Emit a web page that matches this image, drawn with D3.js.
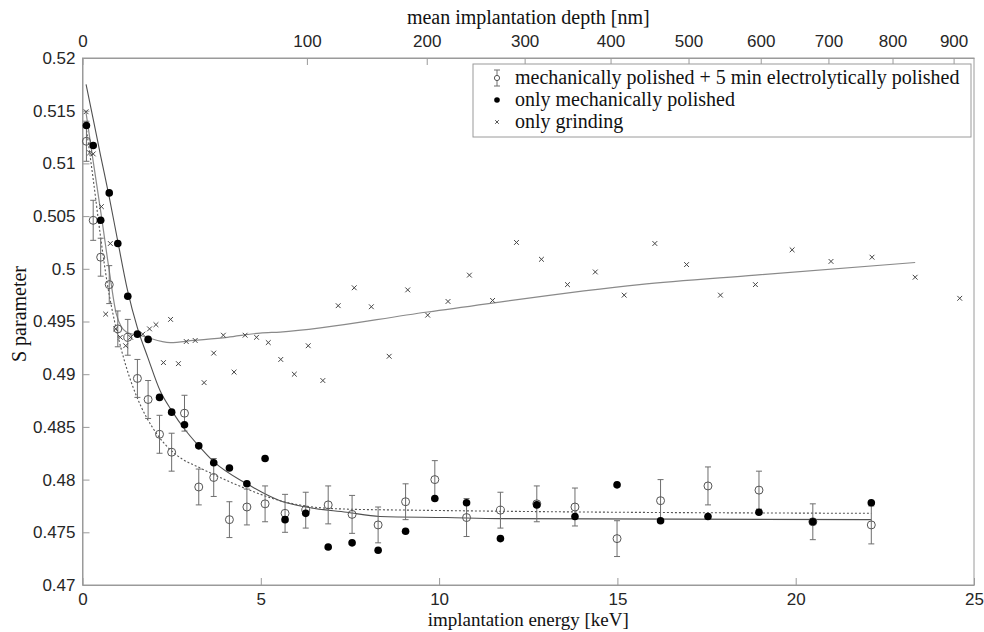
<!DOCTYPE html>
<html><head><meta charset="utf-8">
<script src="https://cdn.jsdelivr.net/npm/d3@7"></script>
<style>body{margin:0;background:#fff;} svg{display:block}</style>
</head><body>
<svg id="chart" width="984" height="632"></svg>
<script>
// ---- data ----
const energy = [0.11,0.30,0.51,0.75,0.99,1.27,1.54,1.84,2.16,2.50,2.86,3.26,3.68,4.12,4.61,5.12,5.68,6.26,6.89,7.56,8.29,9.06,9.88,10.77,11.72,12.74,13.81,14.99,16.21,17.54,18.97,20.48,22.12];
const sElectro = [0.5121,0.5046,0.5011,0.4985,0.4943,0.4935,0.4896,0.4876,0.4843,0.4826,0.4863,0.4793,0.4802,0.4762,0.4774,0.4777,0.4768,0.4771,0.4776,0.4767,0.4757,0.4779,0.4800,0.4764,0.4771,0.4777,0.4774,0.4744,0.4780,0.4794,0.4790,0.4760,0.4757];
const sElectroErr = [0.0019,0.0019,0.0018,0.0018,0.0017,0.0017,0.0018,0.0018,0.0018,0.0018,0.0017,0.0017,0.0018,0.0017,0.0017,0.0017,0.0018,0.0017,0.0018,0.0018,0.0017,0.0017,0.0018,0.0018,0.0017,0.0017,0.0018,0.0017,0.0020,0.0018,0.0018,0.0017,0.0018];
const sMech = [0.5136,0.5117,0.5046,0.5072,0.5024,0.4974,0.4938,0.4933,0.4878,0.4864,0.4852,0.4832,0.4816,0.4811,0.4796,0.4820,0.4762,0.4768,0.4736,0.4740,0.4733,0.4751,0.4782,0.4778,0.4744,0.4776,0.4765,0.4795,0.4761,0.4765,0.4769,0.4760,0.4778];
const energyGrind = [0.10,0.20,0.30,0.53,0.65,0.78,0.93,1.06,1.21,1.35,1.69,1.88,2.06,2.27,2.47,2.69,2.91,3.16,3.41,3.68,3.95,4.25,4.56,4.88,5.21,5.56,5.94,6.33,6.74,7.17,7.62,8.10,8.60,9.12,9.68,10.25,10.85,11.50,12.17,12.87,13.60,14.38,15.19,16.05,16.94,17.89,18.87,19.90,20.99,22.14,23.35,24.60];
const sGrind = [0.5149,0.5110,0.5109,0.5059,0.4957,0.5024,0.4943,0.4935,0.4927,0.4935,0.4938,0.4943,0.4947,0.4911,0.4952,0.4910,0.4931,0.4932,0.4892,0.4920,0.4937,0.4902,0.4937,0.4935,0.4930,0.4914,0.4900,0.4927,0.4894,0.4965,0.4982,0.4964,0.4917,0.4980,0.4956,0.4969,0.4994,0.4970,0.5025,0.5009,0.4985,0.4997,0.4975,0.5024,0.5004,0.4975,0.4985,0.5018,0.5007,0.5011,0.4992,0.4972];

// fitted curves
const fitElectroE = [0.10,0.30,0.50,0.70,0.90,1.10,1.30,1.53,2.09,2.65,3.30,3.67,4.61,5.54,6.47,7.41,9.27,11.70,22.12];
const fitElectroS = [0.5135,0.5085,0.5032,0.4985,0.4950,0.4922,0.4899,0.4878,0.4843,0.4823,0.4811,0.4805,0.4791,0.4780,0.4774,0.4772,0.4771,0.4770,0.4768];
const fitMechE = [0.10,0.30,0.51,0.75,0.99,1.26,1.54,1.83,2.18,2.51,2.86,3.26,3.68,4.61,5.54,6.26,7.41,8.34,10.21,11.70,22.12];
const fitMechS = [0.5175,0.5142,0.5107,0.5068,0.5026,0.4980,0.4944,0.4916,0.4884,0.4865,0.4848,0.4832,0.4817,0.4796,0.4780,0.4774,0.4769,0.4765,0.4764,0.4763,0.4762];
const fitGrindE = [0.10,0.30,0.53,0.76,0.95,1.23,1.70,2.46,3.11,4.06,4.98,5.54,9.68,15.62,18.87,23.35];
const fitGrindS = [0.5148,0.5102,0.5050,0.4996,0.4957,0.4940,0.4936,0.4930,0.4932,0.4935,0.4939,0.4940,0.4959,0.4985,0.4994,0.5006];

// axes ticks
const xTicks = [0,5,10,15,20,25];
const yTicks = [0.47,0.475,0.48,0.485,0.49,0.495,0.5,0.505,0.51,0.515,0.52];
const yTickLabels = ["0.47","0.475","0.48","0.485","0.49","0.495","0.5","0.505","0.51","0.515","0.52"];
const depthTicks = [0,100,200,300,400,500,600,700,800,900];
const depthCoef = 5.08, depthExp = 1.62; // z[nm] = 40/rho * E^1.62

const legendLabels = ["mechanically polished + 5 min electrolytically polished","only mechanically polished","only grinding"];

// ---- drawing ----
const L = 82.5, R = 974, T = 58, B = 585;
const svg = d3.select('#chart');
const x = d3.scaleLinear().domain([0,25]).range([L,R]);
const y = d3.scaleLinear().domain([0.47,0.52]).range([B,T]);
const dMax = depthCoef*Math.pow(25, depthExp);
const xDepth = d3.scalePow().exponent(1/depthExp).domain([0,dMax]).range([L,R]);

const axisColor = '#9a9a9a', labColor = '#262626';
const tickFont = '17px "Liberation Sans", Arial, sans-serif';
const serif = '"Liberation Serif","Times New Roman",serif';

// frame
svg.append('rect').attr('x',L).attr('y',T).attr('width',R-L).attr('height',B-T)
  .attr('fill','none').attr('stroke',axisColor).attr('stroke-width',1);

function styleAxis(g){
  g.selectAll('.domain').attr('stroke',axisColor);
  g.selectAll('.tick line').attr('stroke',axisColor);
  g.selectAll('.tick text').attr('fill',labColor).style('font',tickFont);
}
const gl = svg.append('g').attr('transform',`translate(${L},0)`)
  .call(d3.axisLeft(y).tickValues(yTicks).tickFormat((d,i)=>yTickLabels[i]).tickSizeInner(-7).tickSizeOuter(0).tickPadding(7));
styleAxis(gl);
const gb = svg.append('g').attr('transform',`translate(0,${B})`)
  .call(d3.axisBottom(x).tickValues(xTicks).tickFormat(d3.format('d')).tickSizeInner(-7).tickSizeOuter(0).tickPadding(8));
styleAxis(gb);
const gt = svg.append('g').attr('transform',`translate(0,${T})`)
  .call(d3.axisTop(xDepth).tickValues(depthTicks).tickFormat(d3.format('d')).tickSizeInner(-7).tickSizeOuter(0).tickPadding(11));
styleAxis(gt);

// axis titles
svg.append('text').attr('x',(L+R)/2).attr('y',626).attr('text-anchor','middle')
  .style('font',`19px ${serif}`).attr('fill','#111').text('implantation energy [keV]');
svg.append('text').attr('x',(L+R)/2).attr('y',24).attr('text-anchor','middle')
  .style('font',`20px ${serif}`).attr('fill','#111').text('mean implantation depth [nm]');
svg.append('text').attr('transform',`translate(26,314) rotate(-90)`).attr('text-anchor','middle')
  .style('font',`20px ${serif}`).attr('fill','#111').text('S parameter');

// fit lines
const line = d3.line().x(d=>x(d[0])).y(d=>y(d[1])).curve(d3.curveMonotoneX);
svg.append('path').datum(d3.zip(fitGrindE,fitGrindS)).attr('d',line)
  .attr('fill','none').attr('stroke','#8a8a8a').attr('stroke-width',1.2);
svg.append('path').datum(d3.zip(fitMechE,fitMechS)).attr('d',line)
  .attr('fill','none').attr('stroke','#505050').attr('stroke-width',1.1);
svg.append('path').datum(d3.zip(fitElectroE,fitElectroS)).attr('d',line)
  .attr('fill','none').attr('stroke','#555').attr('stroke-width',1.1).attr('stroke-dasharray','2,2');

// error bars
const eb = svg.append('g').attr('stroke','#6e6e6e').attr('stroke-width',1);
energy.forEach((e,i)=>{
  const cx = x(e), y1 = y(sElectro[i]-sElectroErr[i]), y2 = y(sElectro[i]+sElectroErr[i]);
  eb.append('line').attr('x1',cx).attr('x2',cx).attr('y1',y1).attr('y2',y2);
  eb.append('line').attr('x1',cx-3).attr('x2',cx+3).attr('y1',y1).attr('y2',y1);
  eb.append('line').attr('x1',cx-3).attr('x2',cx+3).attr('y1',y2).attr('y2',y2);
});
// open circles
svg.append('g').selectAll('circle').data(d3.zip(energy,sElectro)).join('circle')
  .attr('cx',d=>x(d[0])).attr('cy',d=>y(d[1])).attr('r',4)
  .attr('fill','none').attr('stroke','#555').attr('stroke-width',1);
// filled dots
svg.append('g').selectAll('circle').data(d3.zip(energy,sMech)).join('circle')
  .attr('cx',d=>x(d[0])).attr('cy',d=>y(d[1])).attr('r',3.8).attr('fill','#000');
// crosses
const cross = 'M-2.4,-2.4L2.4,2.4M-2.4,2.4L2.4,-2.4';
svg.append('g').selectAll('path').data(d3.zip(energyGrind,sGrind)).join('path')
  .attr('transform',d=>`translate(${x(d[0])},${y(d[1])})`).attr('d',cross)
  .attr('stroke','#444').attr('stroke-width',1).attr('fill','none');

// legend
const lg = svg.append('g');
lg.append('rect').attr('x',473).attr('y',64).attr('width',498).attr('height',73)
  .attr('fill','#fff').attr('stroke',axisColor).attr('stroke-width',1);
const rowY = [78, 100, 122];
const ix = 497;
// icon 1: errorbar + circle
lg.append('line').attr('x1',ix).attr('x2',ix).attr('y1',rowY[0]-8).attr('y2',rowY[0]+8).attr('stroke','#6e6e6e');
lg.append('line').attr('x1',ix-3).attr('x2',ix+3).attr('y1',rowY[0]-8).attr('y2',rowY[0]-8).attr('stroke','#6e6e6e');
lg.append('line').attr('x1',ix-3).attr('x2',ix+3).attr('y1',rowY[0]+8).attr('y2',rowY[0]+8).attr('stroke','#6e6e6e');
lg.append('circle').attr('cx',ix).attr('cy',rowY[0]).attr('r',2.6).attr('fill','#fff').attr('stroke','#555');
lg.append('circle').attr('cx',ix).attr('cy',rowY[1]).attr('r',2.8).attr('fill','#000');
lg.append('path').attr('transform',`translate(${ix},${rowY[2]})`).attr('d','M-1.8,-1.8L1.8,1.8M-1.8,1.8L1.8,-1.8').attr('stroke','#555');
legendLabels.forEach((t,i)=>{
  lg.append('text').attr('x',515).attr('y',rowY[i]+6).style('font',`20px ${serif}`).attr('fill','#111').text(t);
});
</script>
</body></html>
